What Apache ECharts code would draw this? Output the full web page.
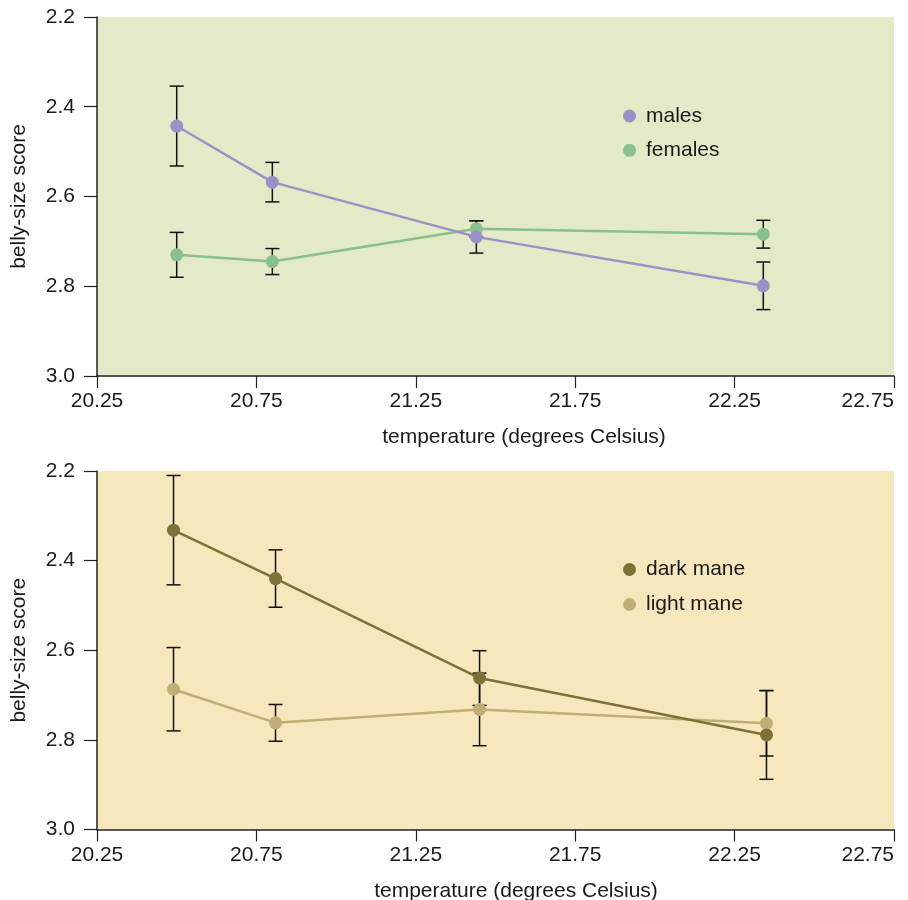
<!DOCTYPE html>
<html>
<head>
<meta charset="utf-8">
<script src="https://cdn.jsdelivr.net/npm/echarts@6/dist/echarts.min.js"></script>
<style>
html,body{margin:0;padding:0;background:#fff;}
#chart{width:908px;height:900px;}
</style>
</head>
<body>
<div id="chart"></div>
<script>
// ---- data ----
const tempsTop = [20.5, 20.8, 21.44, 22.34];
const males = [2.443, 2.568, 2.690, 2.799];
const malesErr = [0.089, 0.044, 0.036, 0.053];
const females = [2.730, 2.745, 2.672, 2.684];
const femalesErr = [0.050, 0.029, 0.018, 0.031];

const tempsBottom = [20.49, 20.81, 21.45, 22.35];
const darkMane = [2.332, 2.440, 2.662, 2.789];
const darkManeErr = [0.122, 0.064, 0.061, 0.099];
const lightMane = [2.687, 2.762, 2.732, 2.763];
const lightManeErr = [0.093, 0.041, 0.081, 0.073];

const xTicks = [20.25, 20.75, 21.25, 21.75, 22.25, 22.75];
const yTicks = [2.2, 2.4, 2.6, 2.8, 3.0];
const xTitle = 'temperature (degrees Celsius)';
const yTitle = 'belly-size score';

// ---- style ----
const FONT = '"Liberation Sans", Arial, Helvetica, sans-serif';
const TXT = '#1a1a1a';
const FS = 21;
const COL = {
  males: '#9a91c7', females: '#89c08d',
  dark: '#7c7238', light: '#c1ae76'
};

function pts(xs, ys) { return xs.map((x, i) => [x, ys[i]]); }
function errs(xs, ys, es) { return xs.map((x, i) => [x, ys[i] - es[i], ys[i] + es[i]]); }

function errRender(params, api) {
  const x = api.value(0), lo = api.value(1), hi = api.value(2);
  const a = api.coord([x, lo]), b = api.coord([x, hi]);
  const hw = 7;
  const st = { stroke: '#111', lineWidth: 1.5 };
  return {
    type: 'group',
    children: [
      { type: 'line', shape: { x1: a[0], y1: a[1], x2: b[0], y2: b[1] }, style: st },
      { type: 'line', shape: { x1: a[0] - hw, y1: a[1], x2: a[0] + hw, y2: a[1] }, style: st },
      { type: 'line', shape: { x1: b[0] - hw, y1: b[1], x2: b[0] + hw, y2: b[1] }, style: st }
    ]
  };
}

function xAxisCfg(gi, padLeft) {
  return {
    type: 'value', gridIndex: gi,
    min: xTicks[0], max: xTicks[xTicks.length - 1], interval: 0.5,
    axisLine: { show: true, lineStyle: { color: '#222', width: 1.5 } },
    axisTick: { show: true, length: 12, lineStyle: { color: '#222', width: 1.2 } },
    axisLabel: { margin: 15, fontSize: FS, fontFamily: FONT, color: TXT, formatter: v => v.toFixed(2),
      alignMaxLabel: 'right', showMaxLabel: true, showMinLabel: true },
    splitLine: { show: false },
    name: xTitle, nameLocation: 'middle', nameGap: 51,
    nameTextStyle: { fontSize: FS, fontFamily: FONT, color: TXT, padding: [0, 0, 0, padLeft] }
  };
}
function yAxisCfg(gi) {
  return {
    type: 'value', gridIndex: gi, inverse: true,
    min: yTicks[0], max: yTicks[yTicks.length - 1], interval: 0.2,
    axisLine: { show: true, lineStyle: { color: '#222', width: 1.5 } },
    axisTick: { show: true, length: 13, lineStyle: { color: '#222', width: 1.2 } },
    axisLabel: { margin: 22, fontSize: FS, fontFamily: FONT, color: TXT, formatter: v => v.toFixed(1) },
    splitLine: { show: false },
    name: yTitle, nameLocation: 'middle', nameGap: 67, nameRotate: 90,
    nameTextStyle: { fontSize: FS, fontFamily: FONT, color: TXT }
  };
}
function lineSeries(name, gi, data, color) {
  return {
    name: name, type: 'line', xAxisIndex: gi, yAxisIndex: gi, data: data,
    symbol: 'circle', symbolSize: 13, z: 3,
    itemStyle: { color: color },
    lineStyle: { color: color, width: 2.5 }
  };
}
function errSeries(name, gi, data) {
  return {
    name: name, type: 'custom', xAxisIndex: gi, yAxisIndex: gi, data: data,
    renderItem: errRender, z: 2, encode: { x: 0, y: [1, 2] }, silent: true
  };
}
function legendCfg(names, top, gap) {
  return {
    data: names, orient: 'vertical', left: 623, top: top, padding: 0,
    itemWidth: 23, itemHeight: 13, itemGap: gap, icon: 'circle', selectedMode: false,
    textStyle: { fontSize: FS, fontFamily: FONT, color: TXT }
  };
}

const chart = echarts.init(document.getElementById('chart'), null, { renderer: 'canvas' });
chart.setOption({
  animation: false,
  backgroundColor: '#ffffff',
  textStyle: { fontFamily: FONT },
  grid: [
    { left: 97, top: 17, right: 14, height: 359, show: true, backgroundColor: '#e3eac7', borderWidth: 0, outerBoundsMode: 'none', containLabel: false },
    { left: 97, top: 471, right: 14, height: 358.5, show: true, backgroundColor: '#f6e7bd', borderWidth: 0, outerBoundsMode: 'none', containLabel: false }
  ],
  xAxis: [xAxisCfg(0, 57), xAxisCfg(1, 41)],
  yAxis: [yAxisCfg(0), yAxisCfg(1)],
  legend: [
    legendCfg(['males', 'females'], 105.5, 13.3),
    legendCfg(['dark mane', 'light mane'], 559, 14)
  ],
  series: [
    errSeries('males err', 0, errs(tempsTop, males, malesErr)),
    errSeries('females err', 0, errs(tempsTop, females, femalesErr)),
    lineSeries('females', 0, pts(tempsTop, females), COL.females),
    lineSeries('males', 0, pts(tempsTop, males), COL.males),
    errSeries('dark err', 1, errs(tempsBottom, darkMane, darkManeErr)),
    errSeries('light err', 1, errs(tempsBottom, lightMane, lightManeErr)),
    lineSeries('light mane', 1, pts(tempsBottom, lightMane), COL.light),
    lineSeries('dark mane', 1, pts(tempsBottom, darkMane), COL.dark)
  ]
});
</script>
</body>
</html>
